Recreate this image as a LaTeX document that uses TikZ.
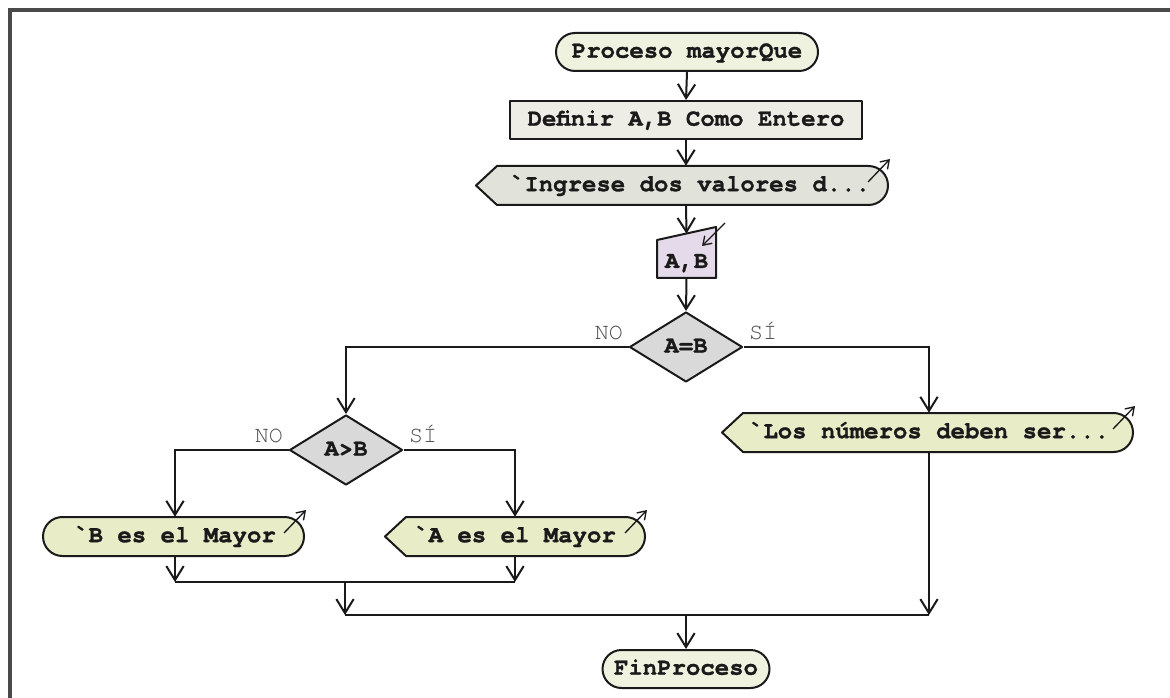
\documentclass[tikz,border=0pt]{standalone}
\usepackage{fontspec}
\setmonofont[BoldFeatures={FakeBold=1.2}]{TeX Gyre Cursor}
\usetikzlibrary{arrows.meta,shapes.geometric,calc}

\definecolor{termfill}{HTML}{EEF2DE}
\definecolor{procfill}{HTML}{EDEDE6}
\definecolor{outgray}{HTML}{E1E2DA}
\definecolor{outgreen}{HTML}{E8EDC8}
\definecolor{infill}{HTML}{E5DAEA}
\definecolor{decfill}{HTML}{D9D9D9}
\definecolor{framegray}{HTML}{4A4A4A}
\definecolor{inkc}{HTML}{1A1A1A}

% output symbol: pointed left end, rounded right end, plus the small "display" arrow
% #1 left x, #2 right x, #3 top y, #4 fill colour
\newcommand{\outshape}[4]{%
  \filldraw[shapeline, fill=#4] (#1,{#3+19.5}) -- ({#1+21},#3) -- ({#2-19.5},#3)
    arc[start angle=90, end angle=-90, radius=14.625pt] -- ({#1+21},{#3+39}) -- cycle;
  \draw[icon] ({#2-20},{#3+16}) -- ({#2+2},{#3-7});
}
% stadium-shaped output symbol
\newcommand{\outstadium}[4]{%
  \filldraw[shapeline, fill=#4, rounded corners=14.6pt] (#1,#3) rectangle (#2,{#3+39});
  \draw[icon] ({#2-20},{#3+16}) -- ({#2+2},{#3-7});
}

\begin{document}
\begin{tikzpicture}[x=0.75pt, y=-0.75pt,
  every node/.style={font=\ttfamily\bfseries\fontsize{18}{20}\selectfont, text=inkc,
    inner sep=0pt, text height=12pt, text depth=3.5pt},
  shapeline/.style={draw=inkc, line width=1.5pt, line join=round},
  line/.style={draw=inkc, line width=1.5pt},
  flow/.style={line, -{Straight Barb[length=10.5pt, width=13pt, line width=1.5pt]}},
  icon/.style={draw=inkc, line width=1pt, -{Straight Barb[length=6pt, width=8pt, line width=1pt]}},
  term/.style={shapeline, fill=termfill, rounded corners=14.25pt, minimum height=28.5pt},
  procbox/.style={shapeline, fill=procfill, minimum height=28.5pt, minimum width=264pt},
  txt/.style={minimum height=29.25pt},
  dec/.style={shapeline, fill=decfill, diamond, aspect=1.6, minimum width=84.75pt, minimum height=52.5pt},
  branch/.style={font=\ttfamily\mdseries\fontsize{17.5}{20}\selectfont, text=black!70}
]
\useasboundingbox (0,0) rectangle (1170,698);
\fill[white] (0,0) rectangle (1170,698);
\draw[line width=3pt, draw=framegray] (9.5,698) -- (9.5,10) -- (1170,10);

% start / definition
\node[term, minimum width=196.5pt] (start) at (687,52) {Proceso mayorQue};
\node[procbox] (def) at (686,120) {Definir A,B Como Entero};

% prompt
\outshape{476}{888}{166}{outgray}
\node[txt] (ing) at (690,185.5) {\textasciigrave Ingrese dos valores d...};

% read A,B
\filldraw[shapeline, fill=infill] (657,240) -- (716,227) -- (716,278) -- (657,278) -- cycle;
\draw[icon] (725,223) -- (702,246);
\node[minimum width=44.25pt, text height=25.5pt, text depth=7.5pt] (ab) at (686.5,256) {A,B};

% decisions
\node[dec] (d1) at (686,347) {A=B};
\node[dec] (d2) at (346,450) {A>B};

% outputs
\outshape{722}{1133}{413}{outgreen}
\node[txt] (los) at (929,432.5) {\textasciigrave Los números deben ser...};
\outstadium{43}{304}{517}{outgreen}
\node[txt] (bout) at (175,536.5) {\textasciigrave B es el Mayor};
\outshape{385}{645}{517}{outgreen}
\node[txt] (aout) at (515,536.5) {\textasciigrave A es el Mayor};

% end
\node[term, minimum width=125.25pt] (fin) at (686,669) {FinProceso};

% branch labels
\node[branch, anchor=south east, xshift=-4pt, yshift=2pt] (no1) at (d1.west) {NO};
\node[branch, anchor=south west, xshift=4pt, yshift=2pt] (si1) at (d1.east) {SÍ};
\node[branch, anchor=south east, xshift=-4pt, yshift=2pt] (no2) at (d2.west) {NO};
\node[branch, anchor=south west, xshift=4pt, yshift=2pt] (si2) at (d2.east) {SÍ};

% junctions
\coordinate (j1) at (345,582);
\coordinate (j2) at (686,615);

% connectors
\draw[flow] (start.south) -- (def.north);
\draw[flow] (def.south) -- (def.south |- ing.north);
\draw[flow] (def.south |- ing.south) -- (ab.north);
\draw[flow] (ab.south) -- (d1.north);
\draw[flow] (d1.west) -| (d2.north);
\draw[flow] (d1.east) -| (los.north);
\draw[flow] (d2.west) -| (bout.north);
\draw[flow] (d2.east) -| (aout.north);
\draw[flow] (bout.south) -- (bout.south |- j1);
\draw[flow] (aout.south) -- (aout.south |- j1);
\draw[line] (bout.south |- j1) -- (aout.south |- j1);
\draw[flow] (j1) -- (j1 |- j2);
\draw[flow] (los.south) -- (los.south |- j2);
\draw[line] (j1 |- j2) -- (los.south |- j2);
\draw[flow] (j2) -- (fin.north);
\end{tikzpicture}
\end{document}
